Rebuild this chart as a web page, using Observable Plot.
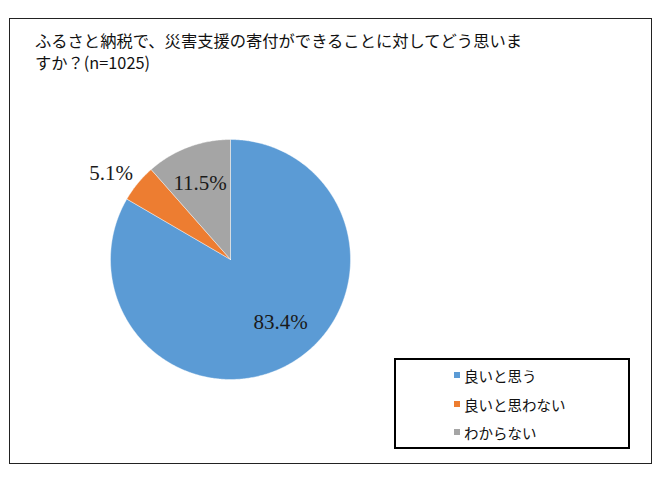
<!DOCTYPE html>
<html>
<head>
<meta charset="utf-8">
<script src="https://cdn.jsdelivr.net/npm/d3@7"></script>
<script src="https://cdn.jsdelivr.net/npm/@observablehq/plot@0.6"></script>
<style>
  html, body { margin: 0; padding: 0; background: #fff; }
  #wrap { position: relative; width: 665px; height: 481px; overflow: hidden; }
  #frame { position: absolute; left: 9px; top: 18px; width: 643px; height: 446px; border: 1px solid #222; box-sizing: border-box; }
  #title { position: absolute; left: 35px; top: 29px; font-family: "Noto Sans CJK JP", sans-serif; font-size: 16.3px; line-height: 22px; color: #111; white-space: nowrap; }
  #chart { position: absolute; left: 0; top: 0; }
  #legend { position: absolute; left: 394px; top: 358px; width: 236px; height: 91px; border: 2px solid #000; box-sizing: border-box; font-family: "Noto Sans CJK JP", sans-serif; font-size: 14.5px; color: #111; }
  .item { position: absolute; left: 58px; display: flex; align-items: center; height: 20px; }
  .sw { width: 6px; height: 6px; margin-right: 4px; }
</style>
</head>
<body>
<div id="wrap">
  <div id="frame"></div>
  <div id="chart"></div>
  <div id="title">ふるさと納税で、災害支援の寄付ができることに対してどう思いま<br>すか？(n=1025)</div>
  <div id="legend"></div>
</div>
<script>
const categories = ["良いと思う", "良いと思わない", "わからない"];
const values = [83.4, 5.1, 11.5];
const labels = ["83.4%", "5.1%", "11.5%"];
const colors = ["#5B9BD5", "#ED7D31", "#A5A5A5"];

// slice angles (clockwise from top)
const total = d3.sum(values);
let acc = 0;
const slices = values.map((v, i) => {
  const a0 = acc / total * 2 * Math.PI;
  acc += v;
  const a1 = acc / total * 2 * Math.PI;
  return {cat: categories[i], a0, a1, i};
});

// polygon points per slice
const pts = [];
for (const s of slices) {
  pts.push({cat: s.cat, x: 0, y: 0});
  const n = Math.max(2, Math.ceil((s.a1 - s.a0) / 0.01));
  for (let k = 0; k <= n; k++) {
    const a = s.a0 + (s.a1 - s.a0) * k / n;
    pts.push({cat: s.cat, x: Math.sin(a), y: Math.cos(a)});
  }
  pts.push({cat: s.cat, x: 0, y: 0});
}

const labelR = [0.67, 1.23, 0.68];
const labelShift = [-0.15, -0.06, -0.02];
const labelPts = slices.map((s, i) => {
  const m = (s.a0 + s.a1) / 2 + labelShift[i];
  return {label: labels[i], x: labelR[i] * Math.sin(m), y: labelR[i] * Math.cos(m)};
});

const plot = Plot.plot({
  width: 665,
  height: 481,
  margin: 0,
  x: {domain: [-1, 1], range: [110, 350], axis: null},
  y: {domain: [-1, 1], range: [379, 139], axis: null},
  color: {domain: categories, range: colors},
  style: {background: "transparent"},
  marks: [
    Plot.line(pts, {x: "x", y: "y", z: "cat", fill: "cat", stroke: "white", strokeWidth: 0.6, strokeOpacity: 0.7}),
    Plot.text(labelPts, {x: "x", y: "y", text: "label", fontFamily: "Liberation Serif, serif", fontSize: 21, fill: "#1a1a1a"})
  ]
});
document.getElementById("chart").appendChild(plot);

const leg = document.getElementById("legend");
const tops = [5, 34, 62];
categories.forEach((c, i) => {
  const d = document.createElement("div");
  d.className = "item";
  d.style.top = tops[i] + "px";
  d.innerHTML = `<span class="sw" style="background:${colors[i]}"></span><span>${c}</span>`;
  leg.appendChild(d);
});
</script>
</body>
</html>
